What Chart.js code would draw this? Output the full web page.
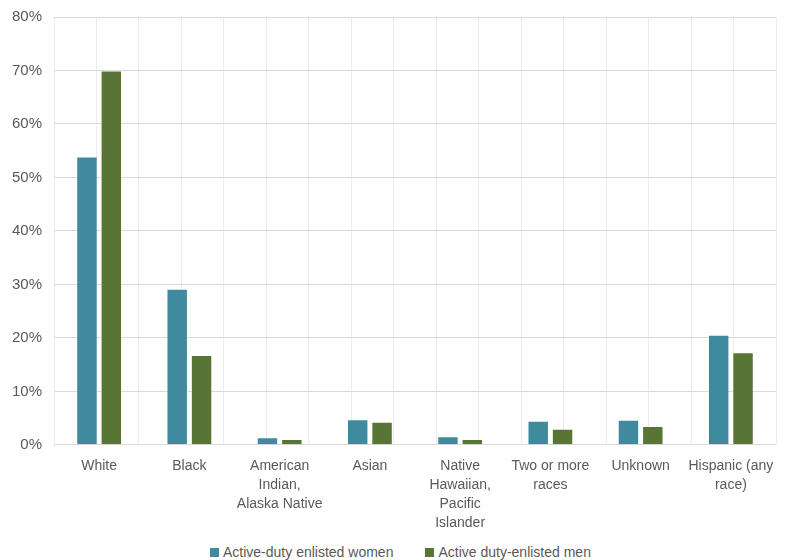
<!DOCTYPE html>
<html>
<head>
<meta charset="utf-8">
<script src="https://cdn.jsdelivr.net/npm/chart.js@4"></script>
<style>
  html, body { margin: 0; padding: 0; background: #fff; overflow: hidden; }
  #page { position: relative; width: 790px; height: 560px; overflow: hidden; }
  #wrap { position: absolute; left: 0; top: -4px; width: 790px; height: 541px; }
  #legend {
    position: absolute; left: 210px; top: 544px;
    display: flex; gap: 32px;
    font: 14px "Liberation Sans", Arial, sans-serif; color: #595959;
  }
  #legend span.item { display: flex; align-items: center; white-space: nowrap; }
  #legend span.box { display: inline-block; width: 9px; height: 9px; margin-right: 4px; }
</style>
</head>
<body>
<div id="page">
  <div id="wrap"><canvas id="raceChart"></canvas></div>
  <div id="legend"></div>
</div>
<script>
// categories and values (percent)
const categories = [
    'White',
    'Black',
    ['American', 'Indian,', 'Alaska Native'],
    'Asian',
    ['Native', 'Hawaiian,', 'Pacific', 'Islander'],
    ['Two or more', 'races'],
    'Unknown',
    ['Hispanic (any', 'race)'],
];
const womenValues = [53.9, 29.2, 1.4, 4.8, 1.6, 4.5, 4.7, 20.6];
const menValues = [70.0, 16.8, 1.1, 4.3, 1.1, 3.0, 3.5, 17.3];
const yTicks = [0, 10, 20, 30, 40, 50, 60, 70, 80];

const labelColor = '#595959';
const fontFamily = '"Liberation Sans", Arial, sans-serif';

const ctx = document.getElementById('raceChart').getContext('2d');

const chart = new Chart(ctx, {
    type: 'bar',
    data: {
        labels: categories,
        datasets: [{
            label: 'Active-duty enlisted women',
            data: womenValues,
            backgroundColor: '#3f8a9f',
            borderColor: 'rgba(255, 255, 255, 0.3)',
            borderWidth: 1,
            categoryPercentage: 0.54,
            barPercentage: 0.88,
        }, {
            label: 'Active duty-enlisted men',
            data: menValues,
            backgroundColor: '#587536',
            borderColor: 'rgba(255, 255, 255, 0.3)',
            borderWidth: 1,
            categoryPercentage: 0.54,
            barPercentage: 0.88,
        }],
    },
    options: {
        responsive: true,
        maintainAspectRatio: false,
        animation: false,
        layout: { padding: { top: 0, right: 14, left: 0, bottom: 0 } },
        plugins: {
            tooltip: { enabled: false },
            legend: { display: false },
        },
        scales: {
            x: {
                grid: { display: false },
                border: { display: false },
                ticks: {
                    color: labelColor,
                    font: { family: fontFamily, size: 14, lineHeight: 1.36 },
                    maxRotation: 0,
                    autoSkip: false,
                    padding: 4,
                },
            },
            // grid only axis: lines on category edges and middles
            xg: {
                type: 'linear',
                position: 'top',
                min: 0,
                max: categories.length,
                afterBuildTicks: (axis) => {
                    axis.ticks = [];
                    for (let i = 0; i <= categories.length * 2; i++) {
                        axis.ticks.push({ value: i / 2 });
                    }
                },
                grid: { color: '#ececec', drawTicks: false },
                border: { display: false },
                ticks: { display: false },
            },
            y: {
                min: 0,
                max: 80,
                afterBuildTicks: (axis) => {
                    axis.ticks = yTicks.map((v) => ({ value: v }));
                },
                grid: { color: '#d9d9d9', drawTicks: false },
                border: { display: false },
                ticks: {
                    color: labelColor,
                    font: { family: fontFamily, size: 15 },
                    padding: 12,
                    callback: (v) => v + '%',
                },
            },
        },
    },
});

// legend built from the datasets
const legend = document.getElementById('legend');
chart.data.datasets.forEach((ds) => {
    const item = document.createElement('span');
    item.className = 'item';
    const box = document.createElement('span');
    box.className = 'box';
    box.style.background = ds.backgroundColor;
    item.appendChild(box);
    item.appendChild(document.createTextNode(ds.label));
    legend.appendChild(item);
});
</script>
</body>
</html>
